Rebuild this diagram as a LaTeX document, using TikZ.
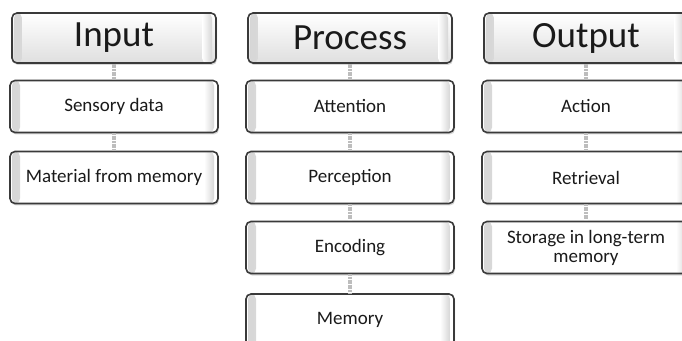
\documentclass[tikz,border=0pt]{standalone}
\usepackage{fontspec}
\setmainfont{Carlito}
\usetikzlibrary{shadows}
\definecolor{boxline}{HTML}{3A3A3A}
\definecolor{bevel}{HTML}{D6D6D6}
\definecolor{linkgray}{HTML}{BDBDBD}
\definecolor{textdark}{HTML}{1A1A1A}
\tikzset{
  panel/.style={draw=boxline, line width=1.6pt, rounded corners=5pt, fill=white,
    text=textdark, align=center,
    drop shadow={shadow xshift=1pt, shadow yshift=-2pt, opacity=0.3},
    path picture={
      \shade[left color=bevel, right color=white]
        ([xshift=2pt]path picture bounding box.south west) rectangle ([xshift=10pt]path picture bounding box.north west);
      \shade[left color=white, right color=bevel]
        ([xshift=-14pt]path picture bounding box.south east) rectangle ([xshift=-4pt]path picture bounding box.north east);
    }},
  head/.style={panel, minimum width=204pt, minimum height=50pt,
    top color=white, bottom color=gray!25, font=\fontsize{37}{40}\selectfont},
  item/.style={panel, minimum width=208pt, minimum height=52pt,
    font=\fontsize{19}{22}\selectfont},
  link/.style={linkgray, line width=4pt, dash pattern=on 2pt off 0.6pt}
}
\begin{document}
\begin{tikzpicture}[x=1pt, y=1pt]
  \clip (0,0) rectangle (682,340);
  \fill[white] (0,0) rectangle (682,340);
  % input
  \node[head] (input) at (114,302) {Input};
  \node[item] (sensory) at (114,233.5) {Sensory data};
  \node[item] (material) at (114,162.5) {Material from memory};
  % process
  \node[head] (process) at (350,302) {Process};
  \node[item] (attention) at (350,233.5) {Attention};
  \node[item] (perception) at (350,162.5) {Perception};
  \node[item] (encoding) at (350,92.5) {Encoding};
  \node[item] (memory) at (350,20) {Memory};
  % output
  \node[head] (output) at (586,302) {Output};
  \node[item] (action) at (586,233.5) {Action};
  \node[item] (retrieval) at (586,162.5) {Retrieval};
  \node[item, inner sep=1pt] (storage) at (586,92.5) {Storage in long-term\\[-3pt]memory};
  % links
  \draw[link] (input) -- (sensory);
  \draw[link] (sensory) -- (material);
  \draw[link] (process) -- (attention);
  \draw[link] (attention) -- (perception);
  \draw[link] (perception) -- (encoding);
  \draw[link] (encoding) -- (memory);
  \draw[link] (output) -- (action);
  \draw[link] (action) -- (retrieval);
  \draw[link] (retrieval) -- (storage);
\end{tikzpicture}
\end{document}
